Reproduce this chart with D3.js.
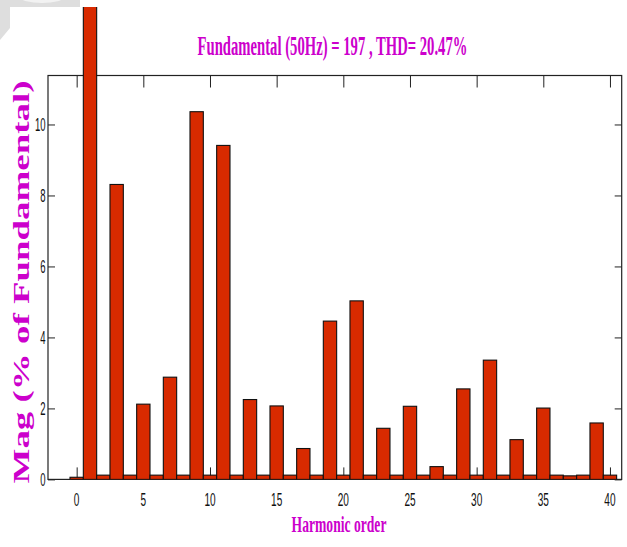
<!DOCTYPE html>
<html>
<head>
<meta charset="utf-8">
<script src="https://cdn.jsdelivr.net/npm/d3@7/dist/d3.min.js"></script>
<style>
  html, body { margin: 0; padding: 0; background: #ffffff; }
  svg { display: block; }
</style>
</head>
<body>
<div id="chart"></div>
<script>
// Harmonic spectrum of the current, in % of the fundamental
const harmonicOrders = [0, 1, 2, 3, 4, 5, 6, 7, 8, 9, 10,
                        11, 12, 13, 14, 15, 16, 17, 18, 19, 20,
                        21, 22, 23, 24, 25, 26, 27, 28, 29, 30,
                        31, 32, 33, 34, 35, 36, 37, 38, 39, 40];
const magnitudes = [0.06, 100, 0.12, 8.31, 0.12, 2.12, 0.12, 2.88, 0.12, 10.36, 0.12,
                    9.41, 0.12, 2.25, 0.12, 2.07, 0.12, 0.87, 0.12, 4.46, 0.12,
                    5.03, 0.12, 1.44, 0.12, 2.06, 0.12, 0.36, 0.12, 2.55, 0.12,
                    3.36, 0.12, 1.12, 0.12, 2.01, 0.12, 0.10, 0.12, 1.59, 0.12];
const xTicks = [0, 5, 10, 15, 20, 25, 30, 35, 40];
const yTicks = [0, 2, 4, 6, 8, 10];
const titleText = "Fundamental (50Hz) = 197 , THD= 20.47%";
const xLabel = "Harmonic order";
const yLabel = "Mag (% of Fundamental)";

const W = 627, H = 547;
const plot = { left: 48, right: 621.7, top: 75.5, bottom: 479.4 };
const magenta = "#cc00cc";
const barFill = "#d82a00";

const svg = d3.select("#chart").append("svg")
  .attr("width", W).attr("height", H);

// page corner shading
svg.append("path")
  .attr("d", "M0,0 H80 V7 H10 V28 L0,40 Z")
  .attr("fill", "#dedede");
svg.append("ellipse")
  .attr("cx", 42).attr("cy", -3).attr("rx", 22).attr("ry", 6)
  .attr("fill", "#f2f2f2");

const x = d3.scaleLinear().domain([-2.15, 40.88]).range([plot.left, plot.right]);
const y = d3.scaleLinear().domain([0, 11.38]).range([plot.bottom, plot.top]);
const unit = x(1) - x(0);

svg.append("defs").append("clipPath").attr("id", "plotClip")
  .append("rect")
  .attr("x", plot.left).attr("y", 7)
  .attr("width", plot.right - plot.left).attr("height", plot.bottom - 7);

// inward ticks on all four sides
const tickStyle = g => g.call(s => s.select(".domain").remove())
  .selectAll("line").attr("stroke", "#222").attr("stroke-width", 1);

svg.append("g").attr("transform", `translate(0,${plot.bottom})`)
  .call(d3.axisBottom(x).tickValues(xTicks).tickSize(-12).tickFormat(""))
  .call(tickStyle);
svg.append("g").attr("transform", `translate(0,${plot.top})`)
  .call(d3.axisTop(x).tickValues(xTicks).tickSize(-12).tickFormat(""))
  .call(tickStyle);
svg.append("g").attr("transform", `translate(${plot.left},0)`)
  .call(d3.axisLeft(y).tickValues(yTicks).tickSize(-7).tickFormat(""))
  .call(tickStyle);
svg.append("g").attr("transform", `translate(${plot.right},0)`)
  .call(d3.axisRight(y).tickValues(yTicks).tickSize(-7).tickFormat(""))
  .call(tickStyle);

// axes box
svg.append("rect")
  .attr("x", plot.left).attr("y", plot.top)
  .attr("width", plot.right - plot.left).attr("height", plot.bottom - plot.top)
  .attr("fill", "none").attr("stroke", "#222").attr("stroke-width", 1.2);

// bars, one unit wide, centred on each harmonic order
svg.append("g").attr("clip-path", "url(#plotClip)")
  .selectAll("rect").data(harmonicOrders.map((h, i) => ({ h, v: magnitudes[i] })))
  .join("rect")
  .attr("x", d => x(d.h - 0.5))
  .attr("width", unit)
  .attr("y", d => y(d.v))
  .attr("height", d => y(0) - y(d.v))
  .attr("fill", barFill)
  .attr("stroke", "#111")
  .attr("stroke-width", 1.1);

// condensed text: draw at natural size, then squeeze horizontally to a target width
function fittedText(parent, str, cx, cy, width, opts) {
  const g = parent.append("g");
  const t = g.append("text")
    .attr("text-anchor", opts.anchor || "middle")
    .attr("font-family", opts.family)
    .attr("font-size", opts.size)
    .attr("font-weight", opts.weight || "normal")
    .attr("fill", opts.fill)
    .text(str);
  const natural = t.node().getComputedTextLength();
  const sx = width / natural;
  const rot = opts.rotate ? ` rotate(${opts.rotate})` : "";
  g.attr("transform", `translate(${cx},${cy})${rot} scale(${sx},1)`);
  return g;
}

// tick labels
const tickFont = "'Liberation Sans', Arial, sans-serif";
const xLab = svg.append("g");
xTicks.forEach(d => fittedText(xLab, String(d), x(d), 506, String(d).length * 5.6,
  { family: tickFont, size: 19, fill: "#111" }));
const yLab = svg.append("g");
yTicks.forEach(d => fittedText(yLab, String(d), 45.5, y(d) + 6.5, String(d).length * 5.3,
  { family: tickFont, size: 18, fill: "#111", anchor: "end" }));

// title and axis labels
const serif = "'Liberation Serif', 'Times New Roman', serif";
fittedText(svg, titleText, 332.5, 55, 270,
  { family: serif, size: 28, weight: "bold", fill: magenta });
fittedText(svg, xLabel, 339, 532, 95,
  { family: serif, size: 24, weight: "bold", fill: magenta });
fittedText(svg, yLabel, 29, 282, 403,
  { family: serif, size: 23, weight: "bold", fill: magenta, rotate: -90 });
</script>
</body>
</html>
